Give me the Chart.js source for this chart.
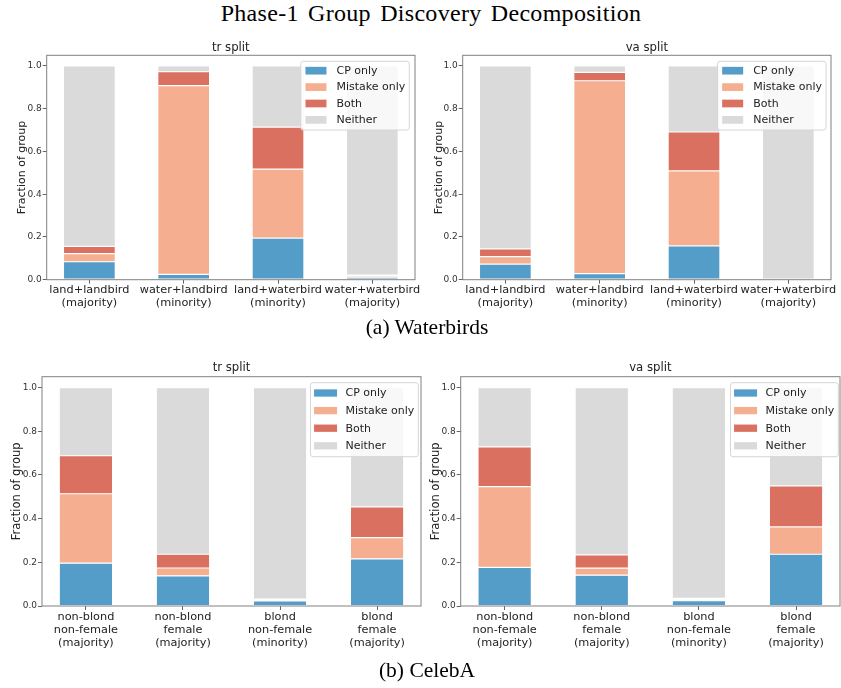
<!DOCTYPE html>
<html>
<head>
<meta charset="utf-8">
<script src="https://cdn.jsdelivr.net/npm/chart.js@4.4.0/dist/chart.umd.min.js"></script>
<style>
  body { margin: 0; background: #fff; width: 841px; height: 688px; overflow: hidden; position: relative; }
  .panel { position: absolute; }
  .cap { position: absolute; font-family: "Liberation Serif", serif; color: #000; white-space: nowrap; line-height: 1; transform: translateX(-50%); z-index: 5; }
</style>
</head>
<body>
<div class="cap" id="mainTitle" style="left:431px; top:1px; font-size:24px; letter-spacing:0.3px; word-spacing:3px;">Phase-1 Group Discovery Decomposition</div>
<div class="cap" style="left:427px; top:317px; font-size:21.5px;">(a) Waterbirds</div>
<div class="cap" style="left:427px; top:660px; font-size:21.5px;">(b) CelebA</div>

<div class="panel" style="left:0px; top:36px; width:420px; height:282px;"><canvas id="wbTr"></canvas></div>
<div class="panel" style="left:420px; top:36px; width:421px; height:282px;"><canvas id="wbVa"></canvas></div>
<div class="panel" style="left:0px; top:358px; width:422px; height:330px;"><canvas id="celebTr"></canvas></div>
<div class="panel" style="left:420px; top:358px; width:421px; height:330px;"><canvas id="celebVa"></canvas></div>

<script>
const seriesNames = ["CP only", "Mistake only", "Both", "Neither"];
const seriesColors = ["#559dc9", "#f5ae8f", "#da705f", "#dadada"];
const yTicks = [0, 0.2, 0.4, 0.6, 0.8, 1.0];

const wbGroups = [
  ["land+landbird", "(majority)"],
  ["water+landbird", "(minority)"],
  ["land+waterbird", "(minority)"],
  ["water+waterbird", "(majority)"]
];
const celebGroups = [
  ["non-blond", "non-female", "(majority)"],
  ["non-blond", "female", "(majority)"],
  ["blond", "non-female", "(minority)"],
  ["blond", "female", "(majority)"]
];

// Waterbirds, tr split
const wbTrCp      = [0.084, 0.025, 0.195, 0.012];
const wbTrMistake = [0.038, 0.883, 0.322, 0.007];
const wbTrBoth    = [0.034, 0.065, 0.197, 0.002];
const wbTrNeither = [0.844, 0.027, 0.286, 0.979];

// Waterbirds, va split
const wbVaCp      = [0.073, 0.028, 0.158, 0.0];
const wbVaMistake = [0.035, 0.903, 0.351, 0.0];
const wbVaBoth    = [0.036, 0.039, 0.182, 0.0];
const wbVaNeither = [0.856, 0.030, 0.309, 1.0];

// CelebA, tr split
const celebTrCp      = [0.196, 0.138, 0.023, 0.216];
const celebTrMistake = [0.318, 0.036, 0.004, 0.097];
const celebTrBoth    = [0.174, 0.063, 0.005, 0.141];
const celebTrNeither = [0.312, 0.763, 0.968, 0.546];

// CelebA, va split
const celebVaCp      = [0.177, 0.141, 0.024, 0.237];
const celebVaMistake = [0.370, 0.032, 0.005, 0.125];
const celebVaBoth    = [0.182, 0.061, 0.006, 0.188];
const celebVaNeither = [0.271, 0.766, 0.965, 0.450];

const FONT = '"DejaVu Sans", sans-serif';

// spines, subplot title and a matplotlib-like legend inside the axes
const decor = {
  id: "decor",
  afterDraw(chart, args, o) {
    const { ctx, chartArea: a } = chart;
    ctx.save();
    ctx.strokeStyle = "#808080";
    ctx.lineWidth = 1;
    ctx.strokeRect(a.left, a.top, a.right - a.left, a.bottom - a.top);

    ctx.fillStyle = "#222";
    ctx.font = o.titleSize + "px " + FONT;
    ctx.textAlign = "center";
    ctx.textBaseline = "middle";
    ctx.fillText(o.title, (a.left + a.right) / 2, a.top - o.titleGap);

    // legend
    ctx.font = "11px " + FONT;
    const maxW = Math.max(...seriesNames.map(n => ctx.measureText(n).width));
    const w = o.legTextX + maxW + 4;
    const h = o.legFirst + 3 * o.legRowH + o.legBottom;
    const x0 = a.right - o.legRight - w;
    const y0 = a.top + o.legTop;
    const r = 2.5;
    ctx.beginPath();
    ctx.moveTo(x0 + r, y0);
    ctx.arcTo(x0 + w, y0, x0 + w, y0 + h, r);
    ctx.arcTo(x0 + w, y0 + h, x0, y0 + h, r);
    ctx.arcTo(x0, y0 + h, x0, y0, r);
    ctx.arcTo(x0, y0, x0 + w, y0, r);
    ctx.closePath();
    ctx.fillStyle = "rgba(255,255,255,0.8)";
    ctx.fill();
    ctx.strokeStyle = "#d6d6d6";
    ctx.stroke();

    ctx.textAlign = "left";
    seriesNames.forEach((n, i) => {
      const cy = y0 + o.legFirst + i * o.legRowH;
      ctx.fillStyle = seriesColors[i];
      ctx.fillRect(x0 + o.legPatchX, cy - o.legPatchH / 2, o.legPatchW, o.legPatchH);
      ctx.fillStyle = "#222";
      ctx.fillText(n, x0 + o.legTextX, cy + 0.5);
    });
    ctx.restore();
  }
};

function makeChart(id, groups, values, title, lay) {
  const datasets = seriesNames.map((name, s) => ({
    label: name,
    data: groups.map((g, i) => ({ x: i, y: values[s][i] })),
    backgroundColor: seriesColors[s],
    borderColor: "#ffffff",
    borderWidth: 0.6,
    borderSkipped: false,
    barPercentage: 0.55,
    categoryPercentage: 1.0
  }));

  return new Chart(document.getElementById(id), {
    type: "bar",
    data: { datasets },
    plugins: [decor],
    options: {
      responsive: true,
      maintainAspectRatio: false,
      animation: false,
      layout: { padding: { left: 0, right: lay.padRight, top: lay.padTop, bottom: 0 } },
      plugins: {
        legend: { display: false },
        tooltip: { enabled: false },
        decor: Object.assign({ title }, lay.legend, { titleSize: 11.7, titleGap: lay.titleGap })
      },
      scales: {
        x: {
          type: "linear",
          stacked: true,
          min: -0.4525,
          max: 3.4525,
          offset: false,
          afterBuildTicks: s => { s.ticks = groups.map((g, i) => ({ value: i })); },
          afterFit: s => { s.height = lay.xHeight; s.paddingLeft = 0; s.paddingRight = 0; },
          ticks: {
            autoSkip: false, maxRotation: 0, minRotation: 0, padding: 0,
            color: "#222",
            font: { family: FONT, size: 11.3, lineHeight: lay.lineH },
            callback: v => groups[v]
          },
          grid: { display: true, offset: false, drawOnChartArea: false, drawTicks: true, tickLength: 4, color: "#666" },
          border: { display: false }
        },
        y: {
          stacked: true,
          min: 0,
          max: 1.05,
          afterBuildTicks: s => { s.ticks = yTicks.map(v => ({ value: v })); },
          afterFit: s => { s.width = lay.yWidth; s.paddingTop = 0; s.paddingBottom = 0; },
          ticks: {
            padding: 1,
            color: "#333",
            font: { family: FONT, size: 9 },
            callback: v => v.toFixed(1)
          },
          grid: { display: true, drawOnChartArea: false, drawTicks: true, tickLength: 4, color: "#666" },
          border: { display: false },
          title: {
            display: true,
            text: "Fraction of group",
            color: "#222",
            font: { family: FONT, size: lay.yTitleSize },
            padding: { top: lay.yTitlePad, bottom: 0 }
          }
        }
      }
    }
  });
}

const topLegend = { legTop: 6, legFirst: 9.4, legRowH: 16.4, legBottom: 10.1, legPatchX: 4.7, legPatchW: 21, legPatchH: 7.7, legTextX: 35.7 };
const botLegend = { legTop: 6, legFirst: 10.3, legRowH: 17.6, legBottom: 10.9, legPatchX: 3.6, legPatchW: 23, legPatchH: 7.3, legTextX: 35 };

makeChart("wbTr", wbGroups, [wbTrCp, wbTrMistake, wbTrBoth, wbTrNeither], "tr split", {
  yWidth: 46.7, padRight: 5, padTop: 19.3, xHeight: 38.3, yTitlePad: 15.1, yTitleSize: 11,
  lineH: 12.7 / 11.3, titleGap: 7.3, legend: Object.assign({ legRight: 5.7 }, topLegend)
});
makeChart("wbVa", wbGroups, [wbVaCp, wbVaMistake, wbVaBoth, wbVaNeither], "va split", {
  yWidth: 42.7, padRight: 10, padTop: 19.3, xHeight: 38.3, yTitlePad: 12.4, yTitleSize: 11,
  lineH: 12.7 / 11.3, titleGap: 7.3, legend: Object.assign({ legRight: 5 }, topLegend)
});
makeChart("celebTr", celebGroups, [celebTrCp, celebTrMistake, celebTrBoth, celebTrNeither], "tr split", {
  yWidth: 42, padRight: 1, padTop: 18.7, xHeight: 82, yTitlePad: 10.4, yTitleSize: 11.5,
  lineH: 13.3 / 11.3, titleGap: 8.7, legend: Object.assign({ legRight: 2.7 }, botLegend)
});
makeChart("celebVa", celebGroups, [celebVaCp, celebVaMistake, celebVaBoth, celebVaNeither], "va split", {
  yWidth: 40.7, padRight: 1, padTop: 18.7, xHeight: 82, yTitlePad: 9.1, yTitleSize: 11.5,
  lineH: 13.3 / 11.3, titleGap: 8.7, legend: Object.assign({ legRight: 1.7 }, botLegend)
});
</script>
</body>
</html>
